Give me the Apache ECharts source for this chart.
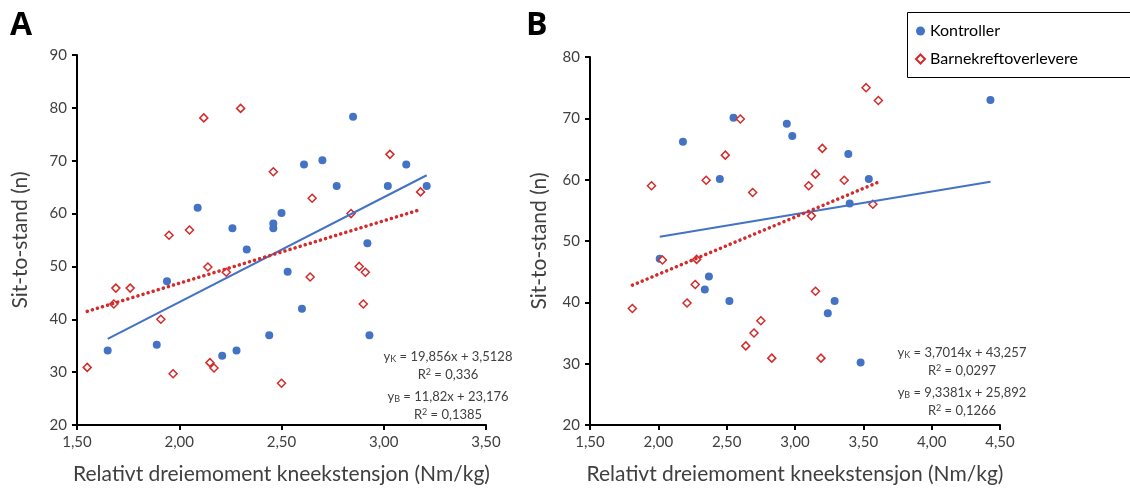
<!DOCTYPE html>
<html><head><meta charset="utf-8">
<script src="https://cdn.jsdelivr.net/npm/echarts@6/dist/echarts.min.js"></script>
<style>html,body{margin:0;padding:0;background:#fff}#c{width:1130px;height:496px}</style>
</head><body><div id="c"></div>
<script>
const seriesNames = ['Kontroller', 'Barnekreftoverlevere'];
const panelLetters = ['A', 'B'];
const xAxisTitle = 'Relativt dreiemoment kneekstensjon (Nm/kg)';
const yAxisTitle = 'Sit-to-stand (n)';
const xRangeA = [1.5, 3.5];
const yRangeA = [20, 90];
const xRangeB = [1.5, 4.5];
const yRangeB = [20, 80];

const ctrlA = [[1.65,34.1],[1.89,35.2],[1.94,47.2],[2.09,61.1],[2.21,33.1],[2.26,57.2],[2.28,34.1],[2.33,53.2],[2.44,37.0],[2.46,58.1],[2.46,57.2],[2.50,60.1],[2.53,49.0],[2.60,42.0],[2.61,69.3],[2.70,70.1],[2.77,65.2],[2.85,78.3],[2.92,54.4],[2.93,37.0],[3.02,65.2],[3.11,69.3],[3.21,65.2]];
const survA = [[1.55,30.9],[1.68,42.9],[1.69,45.9],[1.76,45.9],[1.91,40.0],[1.95,55.9],[1.97,29.7],[2.05,56.9],[2.12,78.1],[2.14,49.9],[2.15,31.8],[2.17,30.8],[2.23,48.9],[2.30,79.9],[2.46,67.9],[2.50,27.9],[2.64,48.0],[2.65,62.9],[2.84,60.0],[2.88,50.0],[2.90,42.9],[2.91,48.9],[3.03,71.2],[3.18,64.1]];
const ctrlB = [[2.01,47.1],[2.18,66.2],[2.34,42.1],[2.37,44.2],[2.45,60.1],[2.52,40.2],[2.55,70.1],[2.94,69.1],[2.98,67.1],[3.24,38.2],[3.29,40.2],[3.39,64.2],[3.40,56.1],[3.48,30.2],[3.54,60.1],[4.43,73.0]];
const survB = [[1.81,39.0],[1.95,59.0],[2.03,46.9],[2.21,39.9],[2.27,42.9],[2.28,47.0],[2.35,59.9],[2.49,64.0],[2.60,69.9],[2.64,32.9],[2.69,57.9],[2.70,35.0],[2.75,37.0],[2.83,30.9],[3.10,59.0],[3.12,54.1],[3.15,60.9],[3.15,41.8],[3.19,30.9],[3.20,65.1],[3.36,59.9],[3.52,75.0],[3.57,56.0],[3.61,72.9]];

// regression coefficients [slope, intercept] as printed
const fitCtrlA = [19.856, 3.5128];
const fitSurvA = [11.82, 23.176];
const fitCtrlB = [3.7014, 43.257];
const fitSurvB = [9.3381, 25.892];

const eqA = ['y{s|K} = 19,856x + 3,5128', 'R{p|2} = 0,336', 'y{s|B} = 11,82x + 23,176', 'R{p|2} = 0,1385'];
const eqB = ['y{s|K} = 3,7014x + 43,257', 'R{p|2} = 0,0297', 'y{s|B} = 9,3381x + 25,892', 'R{p|2} = 0,1266'];

const FONT = 'Lato';
const BLUE = '#4472C4';
const RED = '#D42A2A';
const TXT = '#404040';

function fitLine(pts, coef) {
  const xs = pts.map(p => p[0]);
  const x0 = Math.min(...xs), x1 = Math.max(...xs);
  return [[x0, coef[0]*x0 + coef[1]], [x1, coef[0]*x1 + coef[1]]];
}
const fmt = v => v.toFixed(2).replace('.', ',');

function xAxis(gi, r) {
  return {
    type: 'value', gridIndex: gi, min: r[0], max: r[1], interval: 0.5,
    name: xAxisTitle, nameLocation: 'middle', nameGap: 39,
    nameTextStyle: { fontFamily: FONT, fontSize: 21, color: TXT },
    axisLine: { show: true, onZero: false, lineStyle: { color: '#000', width: 2 } },
    axisTick: { show: true, length: 5, lineStyle: { color: '#000', width: 2 } },
    axisLabel: { formatter: fmt, fontFamily: FONT, fontSize: 15, color: TXT, margin: 10 },
    splitLine: { show: false }
  };
}
function yAxis(gi, r, gap) {
  return {
    type: 'value', gridIndex: gi, min: r[0], max: r[1], interval: 10,
    name: yAxisTitle, nameLocation: 'middle', nameGap: gap,
    nameTextStyle: { fontFamily: FONT, fontSize: 21, color: TXT },
    axisLine: { show: true, onZero: false, lineStyle: { color: '#000', width: 2 } },
    axisTick: { show: true, length: 5, lineStyle: { color: '#000', width: 2 } },
    axisLabel: { fontFamily: FONT, fontSize: 15, color: TXT, margin: 10 },
    splitLine: { show: false }
  };
}
function ctrlSeries(data, i) {
  return { name: seriesNames[0], type: 'scatter', xAxisIndex: i, yAxisIndex: i, data: data,
    symbol: 'circle', symbolSize: 8, itemStyle: { color: BLUE, opacity: 1 }, z: 3 };
}
function survSeries(data, i) {
  return { name: seriesNames[1], type: 'scatter', xAxisIndex: i, yAxisIndex: i, data: data,
    symbol: 'diamond', symbolSize: 8, itemStyle: { color: '#fff', borderColor: RED, borderWidth: 1.5, opacity: 1 }, z: 4 };
}
function ctrlFit(pts, coef, i) {
  return { name: 'fitK' + i, type: 'line', xAxisIndex: i, yAxisIndex: i, data: fitLine(pts, coef),
    symbol: 'none', silent: true, lineStyle: { color: BLUE, width: 2 }, z: 5 };
}
function survFit(pts, coef, i) {
  return { name: 'fitB' + i, type: 'line', xAxisIndex: i, yAxisIndex: i, data: fitLine(pts, coef),
    symbol: 'none', silent: true, lineStyle: { color: RED, width: 3.5, type: [0.1, 5.2], cap: 'round' }, z: 6 };
}
const rich = {
  s: { fontFamily: FONT, fontSize: 9, color: TXT, verticalAlign: 'bottom', padding: [0,0,0,0] },
  p: { fontFamily: FONT, fontSize: 9, color: TXT, verticalAlign: 'top', padding: [0,0,6,0] }
};

const chart = echarts.init(document.getElementById('c'), null, { renderer: 'canvas' });
chart.setOption({
  backgroundColor: '#fff',
  animation: false,
  grid: [
    { left: 77, top: 55, width: 409, height: 370 },
    { left: 590, top: 57, width: 410, height: 368 }
  ],
  xAxis: [xAxis(0, xRangeA), xAxis(1, xRangeB)],
  yAxis: [yAxis(0, yRangeA, 46), yAxis(1, yRangeB, 40)],
  legend: {
    data: [
      { name: seriesNames[0], icon: 'circle' },
      { name: seriesNames[1], icon: 'diamond' }
    ],
    orient: 'vertical', left: 907, top: 12, itemWidth: 9, itemHeight: 9, itemGap: 12,
    padding: [11, 10, 11, 8], borderWidth: 0,
    textStyle: { fontFamily: FONT, fontSize: 16, color: '#000' }
  },
  graphic: [
    { type: 'rect', x: 907.5, y: 12.5, shape: { width: 260, height: 65 }, style: { fill: 'none', stroke: '#000', lineWidth: 1 }, z: 10 },
    { type: 'text', x: 10, y: 10, style: { text: panelLetters[0], fontFamily: 'Open Sans', fontWeight: 'bold', fontSize: 32, fill: '#000' } },
    { type: 'text', x: 526, y: 10, style: { text: panelLetters[1], fontFamily: 'Open Sans', fontWeight: 'bold', fontSize: 32, fill: '#000' } }
  ].concat(
    eqA.map((t, k) => ({ type: 'text', x: 448, y: [357, 375, 397, 415][k],
      style: { text: t, align: 'center', verticalAlign: 'middle', fontFamily: FONT, fontSize: 13, fill: TXT, rich: rich } })),
    eqB.map((t, k) => ({ type: 'text', x: 962, y: [353, 371, 393, 411][k],
      style: { text: t, align: 'center', verticalAlign: 'middle', fontFamily: FONT, fontSize: 13, fill: TXT, rich: rich } }))
  ),
  series: [
    ctrlSeries(ctrlA, 0), survSeries(survA, 0), ctrlFit(ctrlA, fitCtrlA, 0), survFit(survA, fitSurvA, 0),
    ctrlSeries(ctrlB, 1), survSeries(survB, 1), ctrlFit(ctrlB, fitCtrlB, 1), survFit(survB, fitSurvB, 1)
  ]
});
</script>
</body></html>
